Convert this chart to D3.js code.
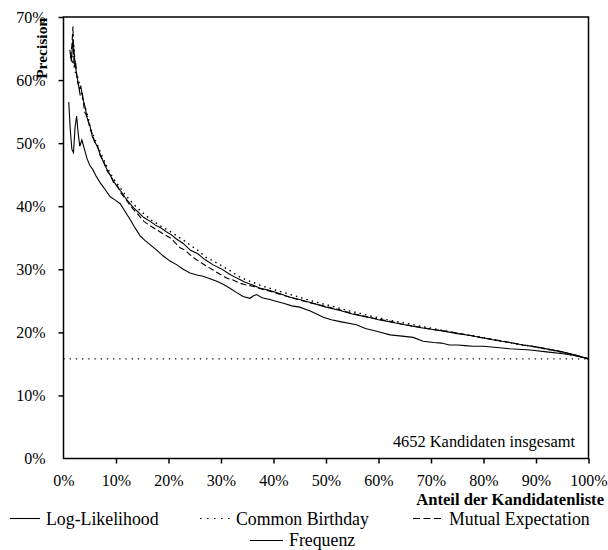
<!DOCTYPE html>
<html><head><meta charset="utf-8">
<script src="https://cdn.jsdelivr.net/npm/d3@7"></script>
<style>
body{margin:0;background:#fff}
svg text{font-family:"Liberation Serif","Tinos","Times New Roman","DejaVu Serif",serif;fill:#000}
</style>
</head><body>
<svg id="c" width="608" height="550"></svg>
<script>
// ---- data (percent) ----
const xTickValues = [10,20,30,40,50,60,70,80,90,100];
const xTickLabels = ["0%","10%","20%","30%","40%","50%","60%","70%","80%","90%","100%"];
const yTickValues = [0,10,20,30,40,50,60,70];

const llX = [1.2,1.5,1.8,2.1,2.4,2.7,3.0,3.3,3.7,4.1,4.5,5.0,5.5,6.0,6.5,7.0,7.6,8.3,8.9,9.6,10.3,11.0,11.8,12.6,13.4,14.3,15.3,16.5,17.5,18.5,19.5,20.5,21.5,22.8,24.2,25.5,27.0,28.5,30.0,31.5,33.0,34.5,36.0,37.5,39.0,41.0,43.0,45.0,47.5,50.0,52.5,55.0,57.5,60.0,62.5,65.0,67.5,70.0,72.5,75.0,77.5,80.0,82.5,85.0,87.5,90.0,92.5,95.0,97.5,100];
const llY = [64.8,63.0,66.5,63.5,61.5,60.0,58.5,59.0,57.0,55.8,54.0,52.8,51.0,50.2,49.3,48.2,47.0,45.8,44.9,43.9,43.0,42.3,41.3,40.5,39.7,39.0,38.2,37.6,37.0,36.6,36.0,35.5,34.8,34.1,33.0,32.5,31.5,30.7,30.1,29.3,28.6,28.0,27.5,27.0,26.7,26.2,25.6,25.2,24.6,24.0,23.5,22.9,22.5,22.0,21.6,21.2,20.8,20.5,20.2,19.8,19.5,19.1,18.7,18.4,18.0,17.7,17.3,16.9,16.4,15.8];

const cbX = [1.4,1.7,2.0,2.3,2.6,3.0,3.4,3.8,4.2,4.7,5.2,5.8,6.4,7.0,7.7,8.4,9.2,10.0,10.8,11.7,12.6,13.6,14.6,15.6,16.7,17.9,19.0,20.3,21.6,22.9,24.2,25.6,27.3,28.6,29.8,31.5,33.3,34.9,36.5,38.0,40.0,42.0,44.0,46.0,48.5,51.0,53.5,56.0,58.5,61.0,63.5,66.0,68.5,71,73.5,76,78.5,81,83.5,86,88.5,91,93.5,96,98,100];
const cbY = [64.0,62.5,65.5,61.0,60.8,59.5,58.0,56.5,55.5,54.0,52.2,51.0,49.8,48.6,47.3,46.0,44.8,43.8,42.9,41.9,41.0,40.1,39.3,38.6,37.8,37.2,36.6,36.0,35.3,34.6,33.8,33.0,31.8,31.3,30.7,29.9,28.9,28.3,27.8,27.3,26.8,26.3,25.8,25.3,24.7,24.2,23.6,23.1,22.6,22.1,21.7,21.3,20.9,20.5,20.1,19.7,19.4,19.0,18.6,18.2,17.9,17.5,17.1,16.6,16.2,15.8];

const meX = [1.3,1.6,1.8,2.0,2.3,2.6,2.9,3.2,3.6,4.0,4.5,5.0,5.5,6.0,6.5,7.0,7.6,8.3,8.9,9.6,10.3,11.0,11.8,12.6,13.4,14.3,15.3,16.5,17.7,19.0,20.3,21.3,22.2,23.2,24.1,25.2,26.3,27.4,28.5,29.8,31.1,32.3,33.6,34.8,36.1,37.5,39.0,41.0,43.0,45.0,47.5,50,52.5,55,57.5,60,62.5,65,67.5,70,72.5,75,77.5,80,82.5,85,87.5,90,92.5,95,97.5,100];
const meY = [63.5,65.5,68.5,62.0,63.0,60.0,59.0,57.5,57.8,55.0,54.2,52.5,51.4,50.0,49.6,48.0,47.2,45.6,45.0,43.6,43.2,42.0,41.2,40.2,39.4,38.6,37.6,36.9,36.3,35.6,35.0,34.2,33.4,33.0,32.3,31.6,31.0,30.4,29.9,29.2,28.6,28.3,27.8,27.5,27.3,26.9,26.6,26.1,25.6,25.1,24.6,24.1,23.6,23.0,22.5,22.1,21.7,21.2,20.9,20.5,20.2,19.9,19.5,19.1,18.8,18.4,18.0,17.7,17.3,16.9,16.4,15.8];

const frX = [1.0,1.3,1.6,1.9,2.2,2.5,2.8,3.1,3.5,4.0,4.5,5.0,5.6,6.2,7.0,7.8,8.9,9.8,10.8,11.7,12.7,13.6,14.6,15.6,16.5,17.8,19.0,20.3,21.6,22.8,24.1,25.4,26.6,27.9,29.2,30.5,31.7,33.0,34.2,35.5,36.2,36.8,37.8,39.3,40.6,41.9,43.5,45.0,47.0,49.5,51.0,52.7,55.8,57.5,60.0,62.2,64.5,66.6,68.5,70.5,72.0,73.5,75.0,76.5,78.0,80,82.5,85,88.9,92,95.2,97.5,100];
const frY = [56.5,52.0,49.0,48.5,52.5,54.3,51.5,49.5,50.5,49.0,47.5,46.5,45.8,44.8,43.7,42.8,41.5,41.0,40.4,39.2,37.9,36.6,35.3,34.5,33.9,33.0,32.1,31.3,30.7,30.0,29.4,29.1,28.9,28.5,28.1,27.6,27.0,26.3,25.7,25.4,25.8,26.0,25.5,25.2,24.9,24.6,24.2,24.0,23.4,22.4,22.0,21.7,21.2,20.6,20.1,19.6,19.4,19.2,18.6,18.4,18.3,18.0,18.0,17.9,17.8,17.8,17.6,17.4,17.2,16.9,16.6,16.3,15.8];

const baseX = [0,100];
const baseY = [15.8,15.8];

const seriesNames = ["Log-Likelihood","Common Birthday","Mutual Expectation","Frequenz"];

// ---- layout ----
const FONT = '"Liberation Serif","Tinos","Times New Roman","DejaVu Serif",serif';
const svg = d3.select("#c");
const L = 63.5, R = 588.5, T = 17, B = 458.5;
const x = d3.scaleLinear().domain([0,100]).range([L,R]);
const y = d3.scaleLinear().domain([0,70]).range([B,T]);

// axes
const yAxis = d3.axisLeft(y).tickValues(yTickValues).tickSize(5).tickPadding(13).tickSizeOuter(0)
  .tickFormat(d => d + "%");
const gy = svg.append("g").attr("transform",`translate(${L},0)`).call(yAxis).attr("font-family",FONT);
gy.select(".domain").remove();
gy.selectAll(".tick line").attr("stroke","#000").attr("stroke-width",1.5)
  .filter(d => d === 0).remove();
gy.selectAll(".tick text").attr("font-size",16).style("font-family",FONT).attr("fill","#000").attr("dy","0.34em");

const xAxis = d3.axisBottom(x).tickValues([0].concat(xTickValues)).tickSize(5).tickPadding(11).tickSizeOuter(0)
  .tickFormat((d,i) => xTickLabels[i]);
const gx = svg.append("g").attr("transform",`translate(0,${B})`).call(xAxis).attr("font-family",FONT);
gx.select(".domain").remove();
gx.selectAll(".tick line").attr("stroke","#000").attr("stroke-width",1.5)
  .filter(d => d === 0).remove();
gx.selectAll(".tick text").attr("font-size",16).style("font-family",FONT).attr("fill","#000");

// frame
svg.append("rect").attr("x",L).attr("y",T).attr("width",R-L).attr("height",B-T)
  .attr("fill","none").attr("stroke","#000").attr("stroke-width",1.5);

// lines
const line = d3.line().x(d => x(d[0])).y(d => y(d[1]));
const zip = (a,b) => a.map((v,i) => [v,b[i]]);
function draw(xs, ys, dash, w){
  svg.append("path").datum(zip(xs,ys)).attr("d",line)
    .attr("fill","none").attr("stroke","#000").attr("stroke-width",w||1)
    .attr("stroke-dasharray",dash||null);
}
draw(baseX, baseY, "1.2,5", 1.2);
draw(frX, frY, null, 1.1);
draw(meX, meY, "6,3", 1.1);
draw(cbX, cbY, "1.5,4", 1.4);
draw(llX, llY, null, 1.1);

// annotation
svg.append("text").attr("x",575).attr("y",447).attr("text-anchor","end")
  .attr("font-size",16.4).style("font-family",FONT).text("4652 Kandidaten insgesamt");

// axis titles
svg.append("text").attr("x",604).attr("y",504.5).attr("text-anchor","end").style("font-family",FONT)
  .attr("font-size",16.6).attr("font-weight","bold").text("Anteil der Kandidatenliste");
svg.append("text").attr("transform","translate(47,18) rotate(-90)").attr("text-anchor","end").style("font-family",FONT)
  .attr("font-size",15.5).attr("font-weight","bold").text("Precision");

// legend
const legend = [
  {name:seriesNames[0], x1:10, x2:40, ly:518.5, tx:46, ty:524.5, dash:null},
  {name:seriesNames[1], x1:200, x2:233, ly:518.5, tx:236, ty:524.5, dash:"1.5,5.5"},
  {name:seriesNames[2], x1:413, x2:443, ly:518.5, tx:449, ty:524.5, dash:"7,3.5"},
  {name:seriesNames[3], x1:250, x2:283, ly:540.5, tx:289, ty:546, dash:null}
];
legend.forEach(l => {
  svg.append("line").attr("x1",l.x1).attr("x2",l.x2).attr("y1",l.ly).attr("y2",l.ly)
    .attr("stroke","#000").attr("stroke-width",1.1).attr("stroke-dasharray",l.dash);
  svg.append("text").attr("x",l.tx).attr("y",l.ty).attr("font-size",17.8).style("font-family",FONT).text(l.name);
});
</script>
</body></html>
